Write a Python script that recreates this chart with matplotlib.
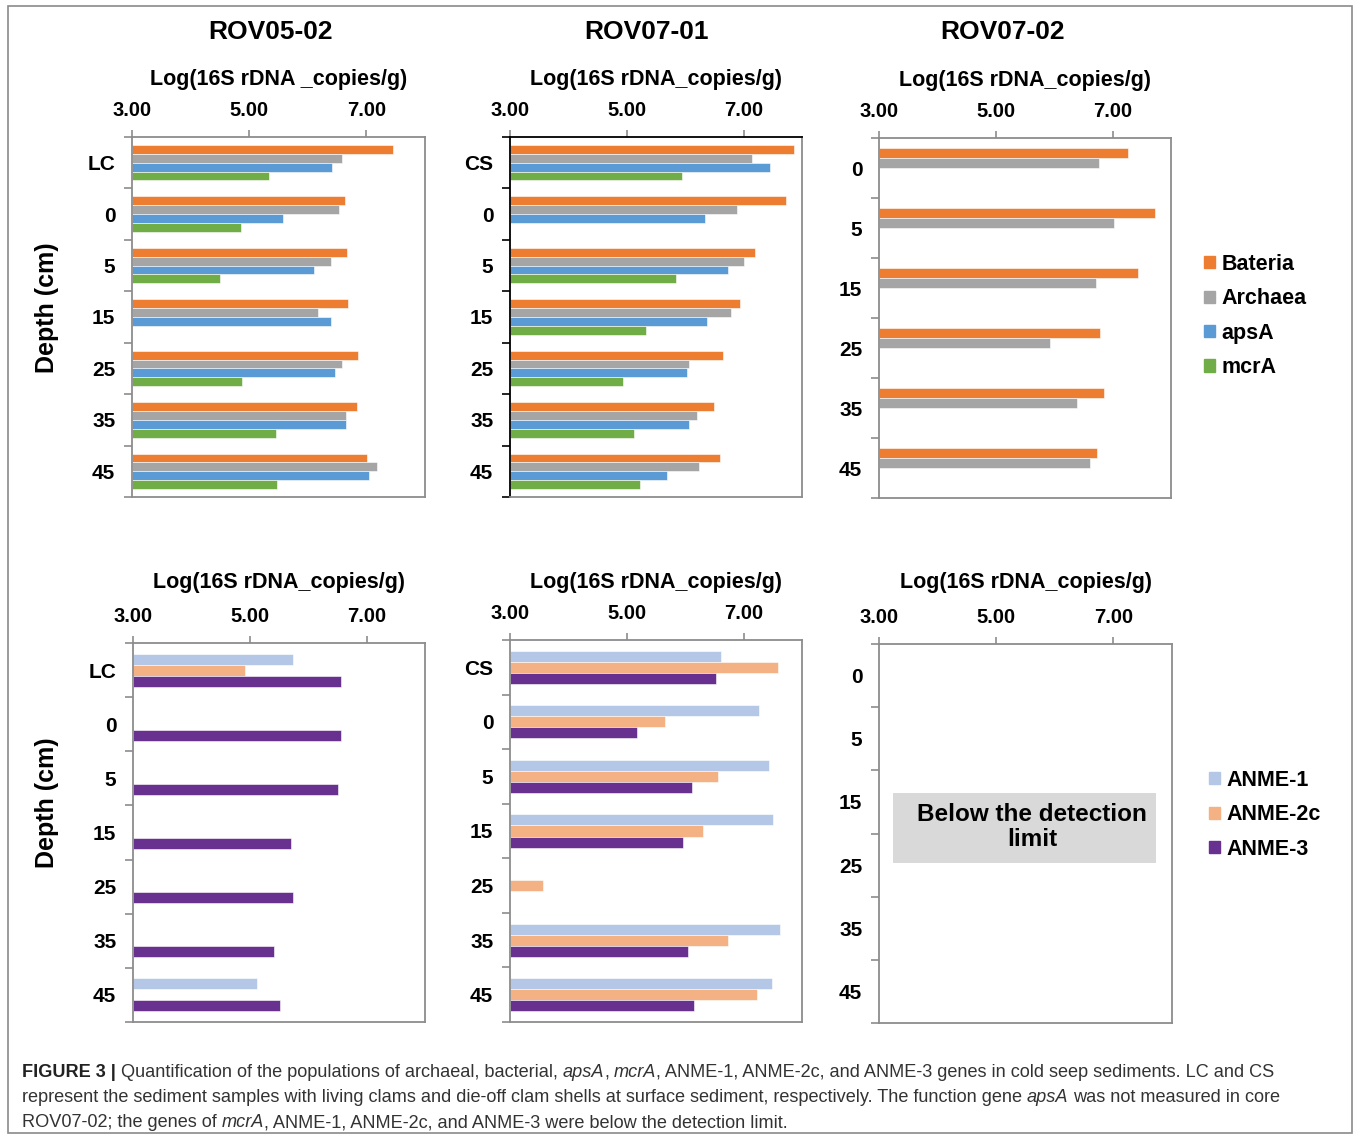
import numpy as np
import matplotlib
matplotlib.use("Agg")
import matplotlib.pyplot as plt
from matplotlib.patches import Patch, Rectangle
from matplotlib import font_manager

plt.rcParams['font.family'] = ['Liberation Sans', 'DejaVu Sans']

nan = np.nan
X0, X1 = 3, 8

# ---- data: log(16S rDNA copies/g) ----
cats_0502 = ['LC', '0', '5', '15', '25', '35', '45']
cats_0701 = ['CS', '0', '5', '15', '25', '35', '45']
cats_0702 = ['0', '5', '15', '25', '35', '45']

bact_0502 = [7.46, 6.63, 6.67, 6.68, 6.85, 6.84, 7.01]
arch_0502 = [6.58, 6.53, 6.39, 6.18, 6.58, 6.66, 7.18]
apsa_0502 = [6.41, 5.57, 6.11, 6.39, 6.46, 6.65, 7.04]
mcra_0502 = [5.33, 4.86, 4.50, nan, 4.88, 5.46, 5.47]

bact_0701 = [7.87, 7.73, 7.19, 6.94, 6.65, 6.50, 6.59]
arch_0701 = [7.14, 6.88, 7.00, 6.79, 6.06, 6.21, 6.23]
apsa_0701 = [7.45, 6.34, 6.74, 6.38, 6.03, 6.07, 5.69]
mcra_0701 = [5.95, nan, 5.85, 5.33, 4.94, 5.13, 5.22]

bact_0702 = [7.26, 7.73, 7.43, 6.79, 6.86, 6.74]
arch_0702 = [6.76, 7.03, 6.71, 5.92, 6.39, 6.61]
apsa_0702 = [nan] * 6
mcra_0702 = [nan] * 6

anme1_0502 = [5.74, nan, nan, nan, nan, nan, 5.13]
anme2c_0502 = [4.91, nan, nan, nan, nan, nan, nan]
anme3_0502 = [6.56, 6.57, 6.51, 5.71, 5.74, 5.41, 5.51]

anme1_0701 = [6.62, 7.27, 7.43, 7.50, nan, 7.62, 7.48]
anme2c_0701 = [7.59, 5.66, 6.57, 6.30, 3.56, 6.73, 7.23]
anme3_0701 = [6.53, 5.18, 6.11, 5.96, nan, 6.04, 6.15]

gene_names = ['Bateria', 'Archaea', 'apsA', 'mcrA']
gene_colors = ['#ED7D31', '#A5A5A5', '#5B9BD5', '#70AD47']
anme_names = ['ANME-1', 'ANME-2c', 'ANME-3']
anme_colors = ['#B4C7E7', '#F4B183', '#68318F']

W, H = 1357, 1139
GRID = '#8c8c8c'
fig = plt.figure(figsize=(W / 100, H / 100), dpi=100)


def px_rect(x0, y0, x1, y1):
    return [x0 / W, 1 - y1 / H, (x1 - x0) / W, (y1 - y0) / H]


def panel(rect, cats, series, colors, bar_h, xlabel, dark=False, labelpad=12):
    ax = fig.add_axes(px_rect(*rect))
    n = len(cats)
    k = len(series)
    for i, (vals, col) in enumerate(zip(series, colors)):
        vals = np.asarray(vals, float)
        y = np.arange(n) + 0.5 + (i - (k - 1) / 2) * bar_h
        ok = ~np.isnan(vals)
        ax.barh(y[ok], vals[ok] - X0, left=X0, height=bar_h, color=col,
                edgecolor='white', linewidth=0.4)
    ax.set_xlim(X0, X1)
    ax.set_ylim(n, 0)
    ax.xaxis.tick_top()
    ax.xaxis.set_label_position('top')
    ax.set_xticks([3, 5, 7])
    ax.set_xticklabels(['3.00', '5.00', '7.00'], fontsize=14.5, fontweight='bold')
    ax.set_xlabel(xlabel, fontsize=15.5, fontweight='bold', labelpad=labelpad)
    ax.set_yticks(np.arange(n + 1))
    ax.set_yticklabels([])
    ax.set_yticks(np.arange(n) + 0.5, minor=True)
    ax.set_yticklabels(cats, minor=True, fontsize=15, fontweight='bold')
    ax.tick_params(axis='y', which='minor', length=0, pad=12)
    ax.tick_params(axis='y', which='major', length=6, width=1.2, color=GRID)
    ax.tick_params(axis='x', length=5, width=1.2, color=GRID, pad=7)
    for sp in ax.spines.values():
        sp.set_color(GRID)
        sp.set_linewidth(1.3)
    if dark:
        ax.spines['left'].set_color('black')
        ax.spines['top'].set_color('black')
        ax.tick_params(axis='y', which='major', color='black')
    return ax


BH4 = 0.172
BH3 = 0.203
panel((132, 137, 425, 497), cats_0502,
      [bact_0502, arch_0502, apsa_0502, mcra_0502], gene_colors, BH4,
      'Log(16S rDNA _copies/g)', labelpad=11.5)
panel((510, 137, 802, 497), cats_0701,
      [bact_0701, arch_0701, apsa_0701, mcra_0701], gene_colors, BH4,
      'Log(16S rDNA_copies/g)', dark=True, labelpad=11.5)
panel((879, 138, 1171, 498), cats_0702,
      [bact_0702, arch_0702, apsa_0702, mcra_0702], gene_colors, 0.167,
      'Log(16S rDNA_copies/g)', labelpad=12)

panel((133, 643, 425, 1022), cats_0502,
      [anme1_0502, anme2c_0502, anme3_0502], anme_colors, BH3,
      'Log(16S rDNA_copies/g)', labelpad=14)
panel((510, 640, 802, 1022), cats_0701,
      [anme1_0701, anme2c_0701, anme3_0701], anme_colors, BH3,
      'Log(16S rDNA_copies/g)', labelpad=12)
panel((879, 644, 1172, 1023), cats_0702, [], [], BH3,
      'Log(16S rDNA_copies/g)', labelpad=14.5)

# grey note box on the empty ROV07-02 panel
fig.patches.append(Rectangle((893 / W, 1 - 863 / H), (1156 - 893) / W, 70 / H,
                             transform=fig.transFigure, facecolor='#d9d9d9',
                             edgecolor='none'))
fig.text(1032 / W, 1 - 827 / H, 'Below the detection\nlimit', ha='center',
         va='center', fontsize=17.5, fontweight='bold', linespacing=1.15)

# core titles and depth labels
for x, t in [(270, 'ROV05-02'), (646, 'ROV07-01'), (1003, 'ROV07-02')]:
    fig.text(x / W, 1 - 32 / H, t, ha='center', va='center', fontsize=19,
             fontweight='bold')
for y in (308, 803):
    fig.text(47 / W, 1 - y / H, 'Depth (cm)', rotation=90, ha='center',
             va='center', fontsize=18, fontweight='bold')

# legends
leg_kw = dict(loc='upper left', frameon=False, prop={'size': 15.5, 'weight': 'bold'},
              handlelength=0.5, handleheight=0.5, handletextpad=0.3,
              labelspacing=0.62, borderaxespad=0, borderpad=0)
fig.legend([Patch(color=c) for c in gene_colors], gene_names,
           bbox_to_anchor=(1204 / W, 1 - 254 / H), **leg_kw)
fig.legend([Patch(color=c) for c in anme_colors], anme_names,
           bbox_to_anchor=(1209 / W, 1 - 770 / H), **leg_kw)

# outer frame
fig.patches.append(Rectangle((8 / W, 1 - 1133 / H), (1352 - 8) / W, (1133 - 6) / H,
                             transform=fig.transFigure, fill=False,
                             edgecolor='#8a8a8a', linewidth=1.2))

# caption, drawn run by run so italics can sit inside the sentence
try:
    font_manager.findfont(font_manager.FontProperties(family='Liberation Sans Narrow'),
                          fallback_to_default=False)
    cap_family = 'Liberation Sans Narrow'
except Exception:
    cap_family = 'Liberation Sans'

caption = [
    [('FIGURE 3 | ', 'bold'), ('Quantification of the populations of archaeal, bacterial, ', 'normal'),
     ('apsA', 'italic'), (', ', 'normal'), ('mcrA', 'italic'),
     (', ANME-1, ANME-2c, and ANME-3 genes in cold seep sediments. LC and CS', 'normal')],
    [('represent the sediment samples with living clams and die-off clam shells at surface '
      'sediment, respectively. The function gene ', 'normal'), ('apsA', 'italic'),
     (' was not measured in core', 'normal')],
    [('ROV07-02; the genes of ', 'normal'), ('mcrA', 'italic'),
     (', ANME-1, ANME-2c, and ANME-3 were below the detection limit.', 'normal')],
]
renderer = fig.canvas.get_renderer()


def style_kw(st, size):
    kw = dict(family=cap_family, fontsize=size, color='#333333')
    if st == 'bold':
        kw.update(fontweight='bold', color='#222222')
    elif st == 'italic':
        kw.update(fontstyle='italic')
    return kw


def draw_line(runs, x, y, size, draw=True):
    sp_t = fig.text(0, 0, 'a a', **style_kw('normal', size))
    aa_t = fig.text(0, 0, 'aa', **style_kw('normal', size))
    space = (sp_t.get_window_extent(renderer).width
             - aa_t.get_window_extent(renderer).width)
    sp_t.remove()
    aa_t.remove()
    for s, st in runs:
        lead = len(s) - len(s.lstrip(' '))
        trail = len(s) - len(s.rstrip(' '))
        x += lead * space
        t = fig.text(x / W, 1 - y / H, s.strip(' '), va='baseline', **style_kw(st, size))
        x += t.get_window_extent(renderer).width + trail * space
        if not draw:
            t.remove()
    return x


size = 14
end = draw_line(caption[0], 22, 1077, size, draw=False)
size = size * (1280 - 22) / (end - 22)
for runs, yb in zip(caption, (1077, 1102, 1127)):
    draw_line(runs, 22, yb, size)

fig.savefig('out.png', dpi=100)
